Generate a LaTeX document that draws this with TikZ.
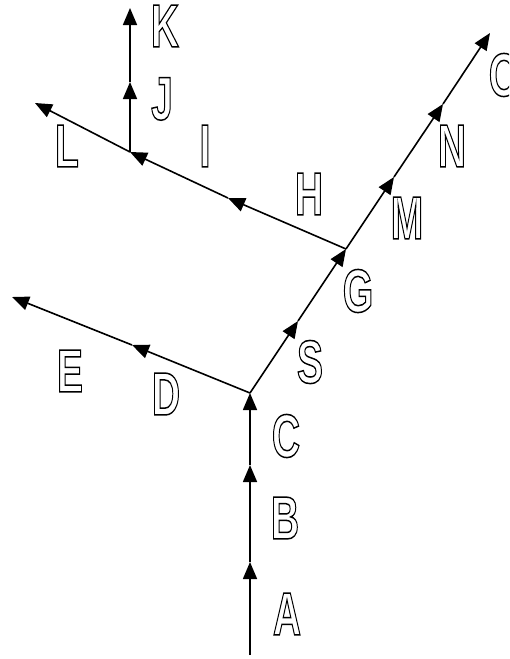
\documentclass[tikz,border=0pt]{standalone}
\usepackage{fontspec}
\setmainfont{Liberation Sans}
\usetikzlibrary{arrows.meta}
\tikzset{
  seg/.style={line width=1.6pt, line join=miter, -{Triangle[length=17pt,width=14pt]}},
  lab/.style={inner sep=0pt, font=\fontsize{61}{61}\selectfont\bfseries},
}
\newcommand\olt[1]{\scalebox{0.64}[1]{\special{pdf:literal direct 1 Tr 1.5 w}#1\special{pdf:literal direct 0 Tr}}}
\begin{document}
\begin{tikzpicture}[x=1pt,y=-1pt]
\useasboundingbox (0,0) rectangle (509,659);
\clip (0,0) rectangle (509,659);
% junctions and arrow tips
\coordinate (p0) at (250,655);
\coordinate (a1) at (250,562);
\coordinate (a2) at (250,465);
\coordinate (j1) at (250,393);
\coordinate (d1) at (132,345);
\coordinate (e1) at (12,297);
\coordinate (s1) at (298,321);
\coordinate (g1) at (346,249);
\coordinate (h1) at (228,198);
\coordinate (l1) at (130,152);
\coordinate (lend) at (35,103);
\coordinate (jj) at (130,82);
\coordinate (kend) at (130,8);
\coordinate (m1) at (394,177);
\coordinate (n1) at (443,104);
\coordinate (oend) at (490,33);
% connectors
\draw[seg] (p0) -- (a1);
\draw[seg] (a1) -- (a2);
\draw[seg] (a2) -- (j1);
\draw[seg] (j1) -- (d1);
\draw[seg] (d1) -- (e1);
\draw[seg] (j1) -- (s1);
\draw[seg] (s1) -- (g1);
\draw[seg] (g1) -- (h1);
\draw[seg] (h1) -- (l1);
\draw[seg] (l1) -- (lend);
\draw[seg] (l1) -- (jj);
\draw[seg] (jj) -- (kend);
\draw[seg] (g1) -- (m1);
\draw[seg] (m1) -- (n1);
\draw[seg] (n1) -- (oend);
% labels
\node[lab] (A) at (287,614) {\olt{A}};
\node[lab] (B) at (285,518) {\olt{B}};
\node[lab] (C) at (286,436) {\olt{C}};
\node[lab] (D) at (166,394) {\olt{D}};
\node[lab] (E) at (70,371) {\olt{E}};
\node[lab] (S) at (310,362) {\olt{S}};
\node[lab] (G) at (358,291) {\olt{G}};
\node[lab] (H) at (309,194) {\olt{H}};
\node[lab] (I) at (205,146) {\olt{I}};
\node[lab] (L) at (67,146) {\olt{L}};
\node[lab] (J) at (162,99) {\olt{J}};
\node[lab] (K) at (165,26) {\olt{K}};
\node[lab] (M) at (407,218) {\olt{M}};
\node[lab] (N) at (452,146) {\olt{N}};
\node[lab] (O) at (504,75) {\olt{O}};
\end{tikzpicture}
\end{document}
